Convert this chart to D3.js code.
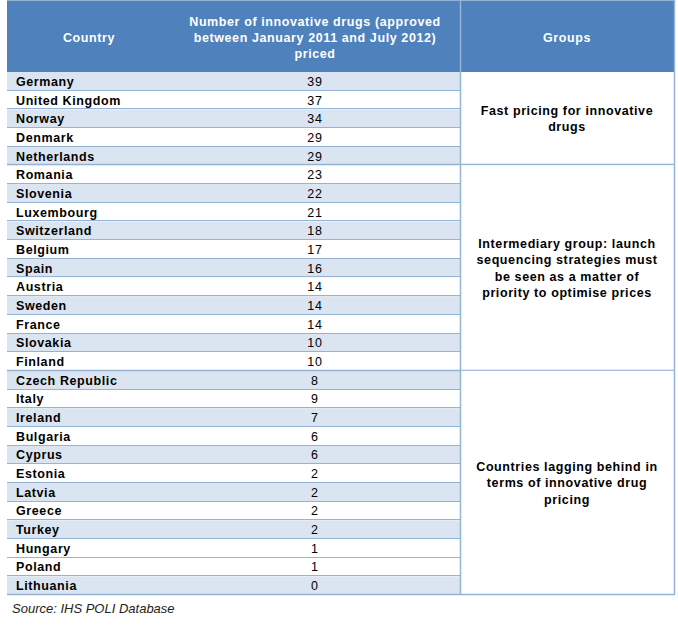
<!DOCTYPE html>
<html>
<head>
<meta charset="utf-8">
<script src="https://cdn.jsdelivr.net/npm/d3@7"></script>
<style>
  body { margin: 0; background: #fff; }
  svg { display: block; font-family: "Liberation Sans", Arial, sans-serif; }
</style>
</head>
<body>
<div id="chart"></div>
<script>
// data
var countries = ["Germany", "United Kingdom", "Norway", "Denmark", "Netherlands",
  "Romania", "Slovenia", "Luxembourg", "Switzerland", "Belgium", "Spain", "Austria",
  "Sweden", "France", "Slovakia", "Finland",
  "Czech Republic", "Italy", "Ireland", "Bulgaria", "Cyprus", "Estonia", "Latvia",
  "Greece", "Turkey", "Hungary", "Poland", "Lithuania"];
var drugsPriced = [39, 37, 34, 29, 29,
  23, 22, 21, 18, 17, 16, 14, 14, 14, 10, 10,
  8, 9, 7, 6, 6, 2, 2, 2, 2, 1, 1, 0];
var groupNames = ["fast", "intermediary", "lagging"];
var groupOf = [0, 0, 0, 0, 0,
  1, 1, 1, 1, 1, 1, 1, 1, 1, 1, 1,
  2, 2, 2, 2, 2, 2, 2, 2, 2, 2, 2, 2];
var groupLabels = [
  ["Fast pricing for innovative", "drugs"],
  ["Intermediary group: launch", "sequencing strategies must", "be seen as a matter of", "priority to optimise prices"],
  ["Countries lagging behind in", "terms of innovative drug", "pricing"]
];
var headers = [
  ["Country"],
  ["Number of innovative drugs (approved", "between January 2011 and July 2012)", "priced"],
  ["Groups"]
];
var sourceText = "Source: IHS POLI Database";

// rows with the banded fill (as in the original, the band breaks near the end)
var shaded = d3.range(25).filter(function(i){ return i % 2 === 0; }).concat([27]);

var W = 678, H = 633;
var left = 7, right = 674, headTop = 1, headBottom = 72, tableBottom = 595;
var colEdges = [left, 170, 460, right];
var colMid = [89, 315, 567];
var lineColor = "#95b3d7";

var svg = d3.select("#chart").append("svg")
  .attr("width", W).attr("height", H);

var y = d3.scaleBand()
  .domain(countries)
  .range([headBottom, tableBottom]);

// header
svg.append("rect")
  .attr("x", left).attr("y", headTop)
  .attr("width", right - left).attr("height", headBottom - headTop)
  .attr("fill", "#4f81bd");
svg.append("line")
  .attr("x1", left).attr("x2", right + 0.5).attr("y1", headTop - 0.5).attr("y2", headTop - 0.5)
  .attr("stroke", lineColor);

headers.forEach(function(lines, c) {
  var mid = (headTop + headBottom) / 2 + 1;
  var lh = 16;
  var t = svg.append("text")
    .attr("text-anchor", "middle")
    .attr("fill", "#fff")
    .attr("font-weight", "bold")
    .attr("font-size", "12.5px")
    .style("letter-spacing", "0.6px");
  lines.forEach(function(s, i) {
    t.append("tspan")
      .attr("x", colMid[c])
      .attr("y", mid + (i - (lines.length - 1) / 2) * lh + 4.5)
      .text(s);
  });
});

// row fills
svg.selectAll("rect.row")
  .data(countries)
  .enter().append("rect")
  .attr("class", "row")
  .attr("x", left)
  .attr("y", function(d){ return y(d); })
  .attr("width", colEdges[2] - left)
  .attr("height", y.bandwidth())
  .attr("fill", function(d, i){ return shaded.indexOf(i) >= 0 ? "#dbe5f1" : "#fff"; });

// row separators
svg.selectAll("line.sep")
  .data(countries)
  .enter().append("line")
  .attr("class", "sep")
  .attr("x1", left).attr("x2", colEdges[2])
  .attr("y1", function(d){ return Math.round(y(d) + y.bandwidth()) - 0.5; })
  .attr("y2", function(d){ return Math.round(y(d) + y.bandwidth()) - 0.5; })
  .attr("stroke", lineColor)
  .attr("stroke-width", 1);

// country names
svg.selectAll("text.country")
  .data(countries)
  .enter().append("text")
  .attr("class", "country")
  .attr("x", 16)
  .attr("y", function(d){ return y(d) + y.bandwidth() / 2 + 4.5; })
  .attr("font-weight", "bold")
  .attr("font-size", "12.5px")
  .style("letter-spacing", "0.6px")
  .text(function(d){ return d; });

// values
svg.selectAll("text.value")
  .data(drugsPriced)
  .enter().append("text")
  .attr("class", "value")
  .attr("x", colMid[1])
  .attr("y", function(d, i){ return y(countries[i]) + y.bandwidth() / 2 + 4.5; })
  .attr("text-anchor", "middle")
  .attr("font-size", "12.5px")
  .style("letter-spacing", "0.8px")
  .text(function(d){ return d; });

// groups
var groupSpans = groupNames.map(function(g, k) {
  var members = countries.filter(function(c, i){ return groupOf[i] === k; });
  var top = y(members[0]);
  var bottom = y(members[members.length - 1]) + y.bandwidth();
  return { key: g, top: top, bottom: bottom, lines: groupLabels[k] };
});

var gg = svg.selectAll("g.group")
  .data(groupSpans)
  .enter().append("g")
  .attr("class", "group");

gg.append("rect")
  .attr("x", colEdges[2]).attr("y", function(d){ return d.top; })
  .attr("width", right - colEdges[2])
  .attr("height", function(d){ return d.bottom - d.top; })
  .attr("fill", "#fff");

gg.append("line")
  .attr("x1", left).attr("x2", right + 0.5)
  .attr("y1", function(d){ return Math.round(d.bottom) - 0.5; })
  .attr("y2", function(d){ return Math.round(d.bottom) - 0.5; })
  .attr("stroke", lineColor).attr("stroke-width", 1.5);

gg.each(function(d) {
  var t = d3.select(this).append("text")
    .attr("text-anchor", "middle")
    .attr("font-weight", "bold")
    .attr("font-size", "12.5px")
    .style("letter-spacing", "0.6px");
  var mid = (d.top + d.bottom) / 2;
  d.lines.forEach(function(s, i) {
    t.append("tspan")
      .attr("x", colMid[2])
      .attr("y", mid + (i - (d.lines.length - 1) / 2) * 16.5 + 4.5)
      .text(s);
  });
});

// vertical borders of the groups column
[colEdges[2], right].forEach(function(xv) {
  svg.append("line")
    .attr("x1", xv + 0.5).attr("x2", xv + 0.5)
    .attr("y1", headTop - 1).attr("y2", tableBottom)
    .attr("stroke", lineColor).attr("stroke-width", 1.5);
});

// source note
svg.append("text")
  .attr("x", 12).attr("y", 613)
  .attr("font-style", "italic")
  .attr("font-size", "13px")
  .attr("fill", "#222")
  .text(sourceText);
</script>
</body>
</html>
